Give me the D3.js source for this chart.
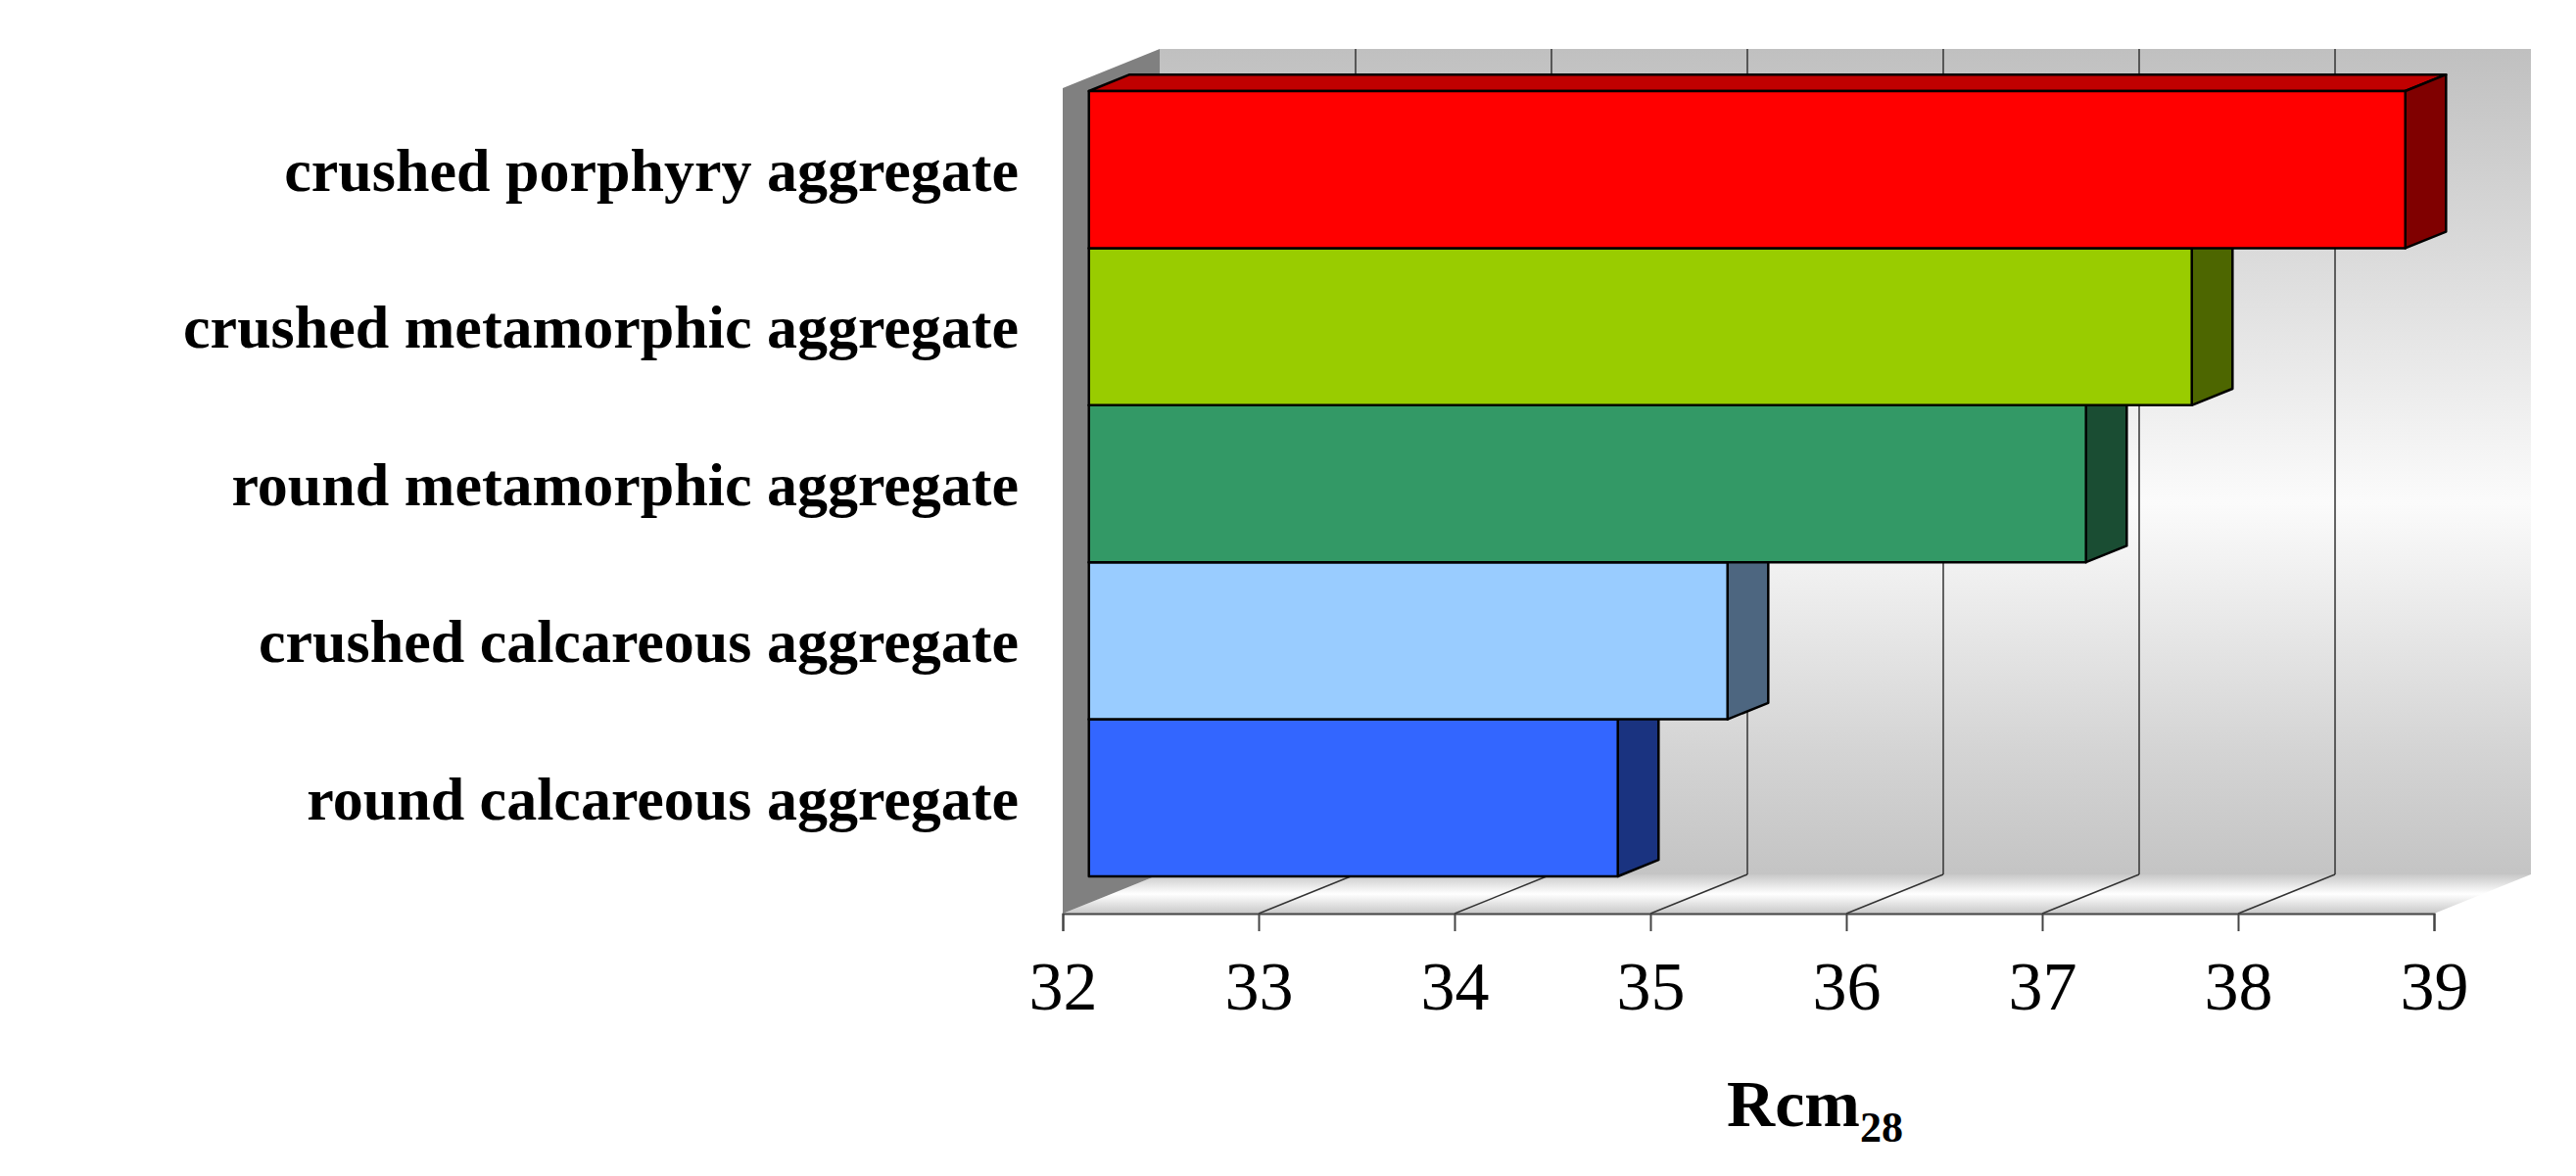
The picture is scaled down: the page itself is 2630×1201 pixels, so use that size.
<!DOCTYPE html>
<html><head><meta charset="utf-8">
<script src="https://cdn.jsdelivr.net/npm/d3@7"></script>
<style>body{margin:0;background:#fff}</style>
</head><body>
<script>
var categories = ["crushed porphyry aggregate","crushed metamorphic aggregate","round metamorphic aggregate","crushed calcareous aggregate","round calcareous aggregate"];
var values = [38.72, 37.63, 37.09, 35.26, 34.70];
var faceColors = ["#ff0000","#99cc00","#339966","#99ccff","#3366ff"];
var sideColors = ["#800000","#4d6600","#1a4d33","#4d6680","#1a3380"];
var topColors = ["#c00000","#7aa300","#297a52","#7aa3cc","#2952cc"];
var ticks = [32,33,34,35,36,37,38,39];

var width = 2630, height = 1201;
var dx = 99, dy = -40;          // depth of the box
var wallTop = 50, floorY = 933;
var off = 0.27, depth = 0.42;   // bar position in the depth

var svg = d3.select("body").append("svg").attr("width",width).attr("height",height);
var x = d3.scaleLinear().domain([32,39]).range([1085,2485]);
var y = d3.scaleBand().domain(categories).range([93,895]).padding(0);

var defs = svg.append("defs");
var wg = defs.append("linearGradient").attr("id","wall").attr("x1",0).attr("y1",0).attr("x2",0).attr("y2",1);
[[0,"#c0c0c0"],[0.55,"#fbfbfb"],[0.85,"#d4d4d4"],[1,"#c4c4c4"]].forEach(function(s){wg.append("stop").attr("offset",s[0]).attr("stop-color",s[1]);});
var fg = defs.append("linearGradient").attr("id","floor").attr("x1",0).attr("y1",0).attr("x2",0).attr("y2",1);
[[0,"#c8c8c8"],[0.5,"#ffffff"],[1,"#c8c8c8"]].forEach(function(s){fg.append("stop").attr("offset",s[0]).attr("stop-color",s[1]);});

var x0 = x(32), x1 = x(39), backY = floorY + dy;
// back wall
svg.append("polygon").attr("points",[[x0+dx,wallTop],[x1+dx,wallTop],[x1+dx,backY],[x0+dx,backY]].join(" ")).attr("fill","url(#wall)");
// floor
svg.append("polygon").attr("points",[[x0,floorY],[x1,floorY],[x1+dx,backY],[x0+dx,backY]].join(" ")).attr("fill","url(#floor)");
// left wall
svg.append("polygon").attr("points",[[x0,wallTop-dy],[x0+dx,wallTop],[x0+dx,backY],[x0,floorY]].join(" ")).attr("fill","#808080");

// gridlines
var inner = ticks.slice(1,-1);
svg.selectAll(".grid").data(inner).enter().append("line")
  .attr("x1",function(d){return x(d)+dx}).attr("x2",function(d){return x(d)+dx})
  .attr("y1",wallTop).attr("y2",backY).attr("stroke","#333").attr("stroke-width",1.5);
svg.selectAll(".fgrid").data(inner).enter().append("line")
  .attr("x1",function(d){return x(d)}).attr("y1",floorY)
  .attr("x2",function(d){return x(d)+dx}).attr("y2",backY).attr("stroke","#333").attr("stroke-width",1.5);

// bars, bottom first
var order = d3.range(categories.length).reverse();
order.forEach(function(i){
  var c = categories[i], v = values[i];
  var fx0 = x(32)+off*dx, fx1 = x(v)+off*dx, ty = y(c), by = y(c)+y.bandwidth();
  var ex = depth*dx, ey = depth*dy;
  var g = svg.append("g").attr("stroke","#000").attr("stroke-width",2.5).attr("stroke-linejoin","round");
  g.append("polygon").attr("points",[[fx0,ty],[fx0+ex,ty+ey],[fx1+ex,ty+ey],[fx1,ty]].join(" ")).attr("fill",topColors[i]);
  g.append("polygon").attr("points",[[fx1,ty],[fx1+ex,ty+ey],[fx1+ex,by+ey],[fx1,by]].join(" ")).attr("fill",sideColors[i]);
  g.append("rect").attr("x",fx0).attr("y",ty).attr("width",fx1-fx0).attr("height",by-ty).attr("fill",faceColors[i]);
});

// x axis
var axis = svg.append("g").attr("transform","translate(0,"+floorY+")")
  .call(d3.axisBottom(x).tickValues(ticks).tickSize(18).tickPadding(30).tickFormat(d3.format("d")));
axis.select(".domain").attr("stroke","#444").attr("stroke-width",2);
axis.selectAll(".tick line").attr("stroke","#444").attr("stroke-width",2);
axis.selectAll("text").attr("font-family","Liberation Serif").attr("font-size",70).attr("fill","#000");

// category labels
svg.selectAll(".cat").data(categories).enter().append("text")
  .attr("x",1040).attr("y",function(d){return y(d)+y.bandwidth()/2})
  .attr("dy","0.35em").attr("text-anchor","end")
  .attr("font-family","Liberation Serif").attr("font-weight","bold").attr("font-size",62)
  .text(function(d){return d});

// axis title
var t = svg.append("text").attr("x",1853).attr("y",1150).attr("text-anchor","middle")
  .attr("font-family","Liberation Serif").attr("font-weight","bold").attr("font-size",68);
t.append("tspan").text("Rcm");
t.append("tspan").attr("font-size",44).attr("dy",16).text("28");
</script>
</body></html>
